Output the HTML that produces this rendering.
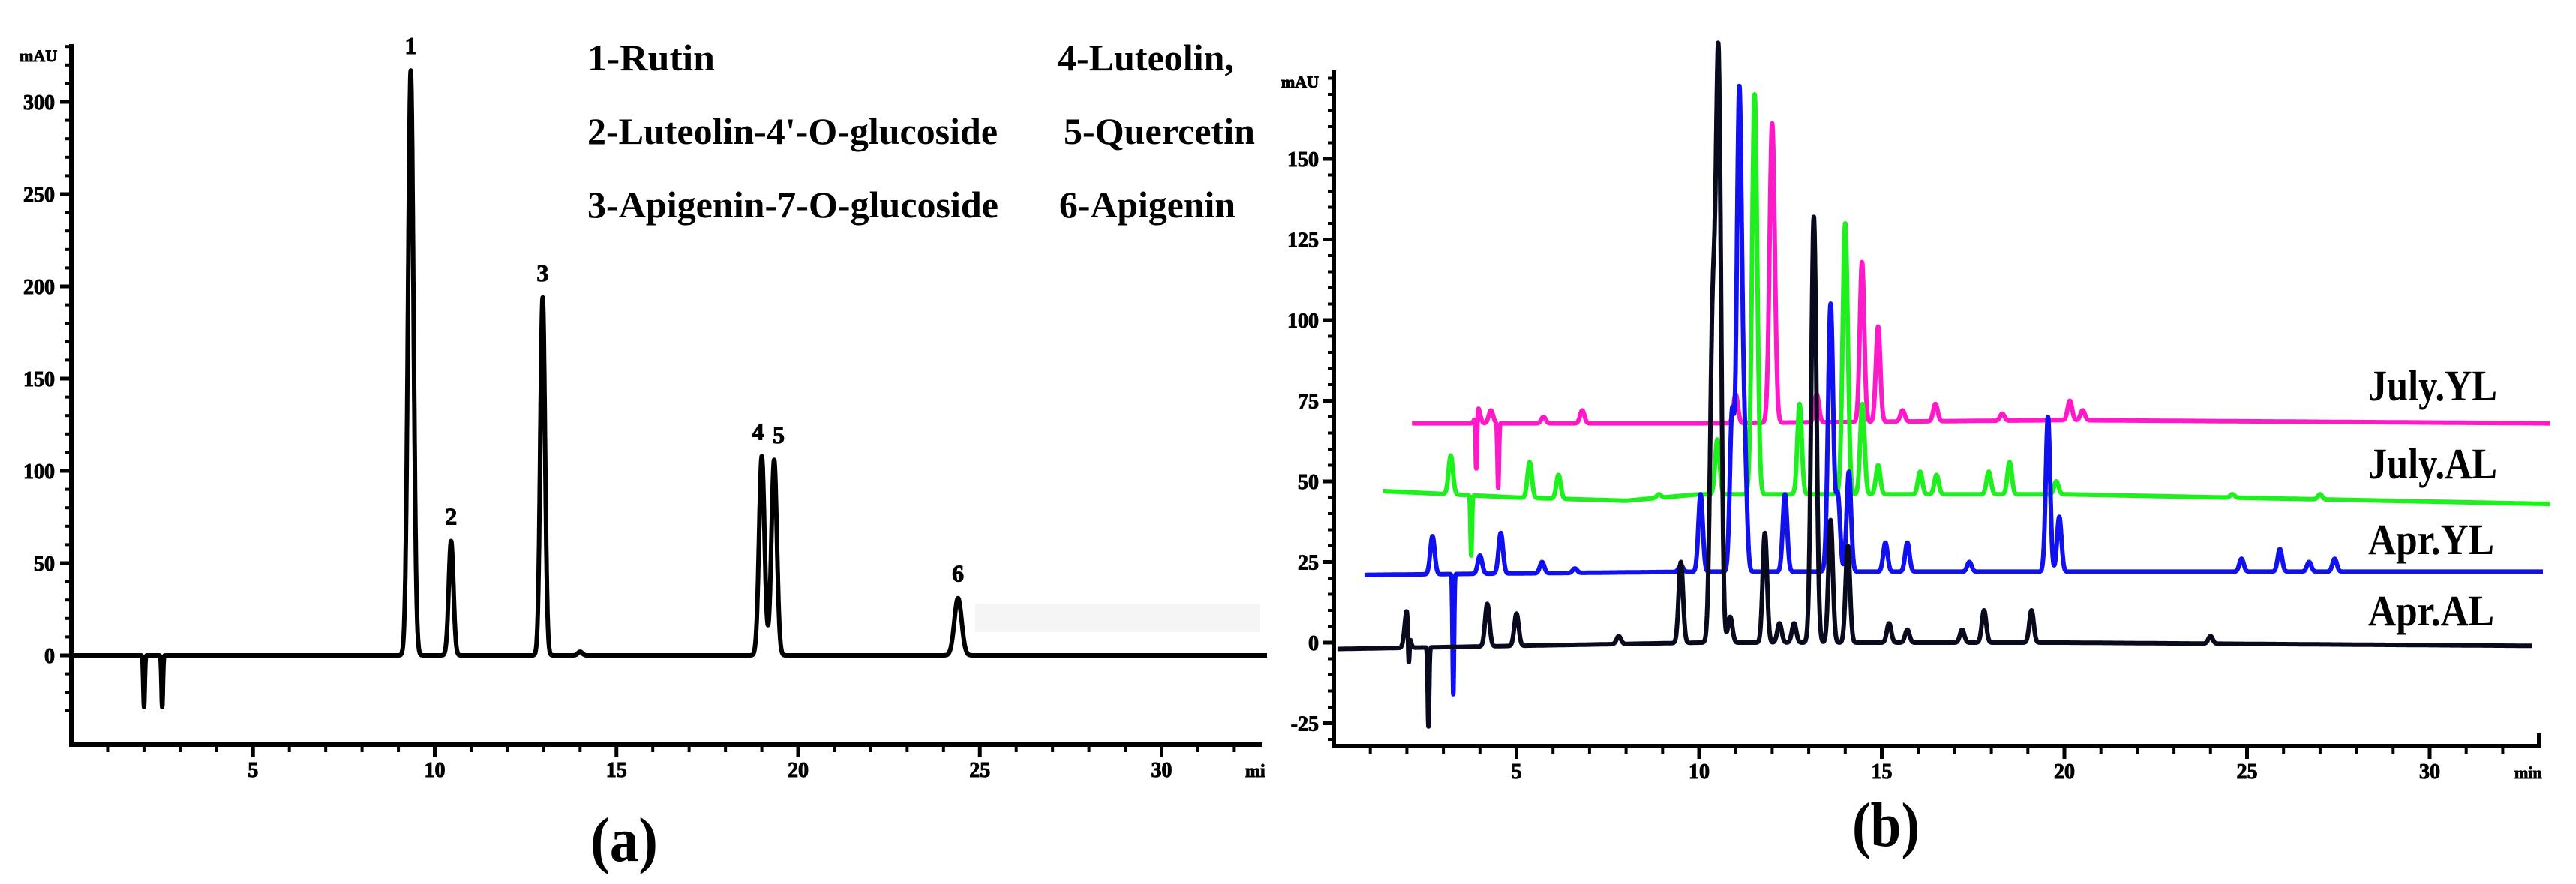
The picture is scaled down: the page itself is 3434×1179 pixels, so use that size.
<!DOCTYPE html>
<html><head><meta charset="utf-8"><style>
html,body{margin:0;padding:0;background:#fff}
svg{display:block}
text{font-family:"Liberation Serif",serif;font-weight:bold}
</style></head><body>
<svg id="s" width="3434" height="1179" viewBox="0 0 3434 1179" xmlns="http://www.w3.org/2000/svg">
<g id="ga"></g>
<g id="gb"></g>
</svg>
<script>
// ---- Panel (a) data ----
const aPeakTimes = [2.0, 2.5, 9.34, 10.45, 12.97, 14.0, 19.0, 19.34, 24.4];
const aPeakHeights = [-28, -28, 317, 62, 194, 2, 108, 106, 31];
const aPeakWidths = [0.02, 0.02, 0.075, 0.065, 0.065, 0.06, 0.075, 0.075, 0.1];
const aPeakLabels = ["1","2","3","4","5","6"];
const aLabelTimes = [9.34, 10.45, 12.97, 19.0, 19.34, 24.4];
const aLabelHeights = [317, 62, 194, 108, 106, 31];
const aYTicks = [0, 50, 100, 150, 200, 250, 300];
const aXTicks = [5, 10, 15, 20, 25, 30];
const legendRows = [["1-Rutin","4-Luteolin,"],["2-Luteolin-4'-O-glucoside","5-Quercetin"],["3-Apigenin-7-O-glucoside","6-Apigenin"]];

// ---- Panel (b) data ----
const bSeriesNames = ["July.YL","July.AL","Apr.YL","Apr.AL"];
const bSeriesColors = ["#ff19c8","#1ef01e","#1010f0","#0a0a1e"];
const bStart = [2.14, 1.35, 0.84, 0.1];
const bEnd = [33.3, 33.3, 33.1, 32.8];
const bBaseT = [[2,10,20,33.3],[1.35,5,8,10,20,33.3],[0.84,10,20,33.1],[0,10,20,32.8]];
const bBaseV = [[68,68,69,68],[47,45,44,46,46,43],[21,22,22,22],[-2,0,0,-1]];
const julyYLT = [3.94,3.9,4.3,4.5,5.74,6.8,11.0,12.0,13.22,14.46,14.9,15.57,16.47,18.3,20.15,20.5];
const julyYLH = [73,50,72,48,70,72,77,161,77,118,98,72,74,71,75,72];
const julyALT = [3.2,3.76,5.36,6.15,8.9,10.5,11.52,12.75,14.0,14.47,14.9,16.05,16.5,17.93,18.5,19.78,24.6,27.0];
const julyALH = [58,27,56,52,46,63,170,74,130,74,55,53,52,53,56,50,46,46];
const aprYLT = [2.7,3.27,4.0,4.57,5.7,6.6,9.5,10.04,10.9,11.1,11.25,12.35,13.6,13.8,14.1,15.1,15.7,17.4,19.55,19.86,24.85,25.9,26.7,27.4];
const aprYLH = [33,-16,27,34,25,23,24,46,70,171,55,46,105,45,53,31,31,25,70,39,26,29,25,26];
const aprALT = [2.0,2.05,2.59,4.2,5.0,7.8,9.5,10.37,10.53,10.85,11.8,12.2,12.6,13.14,13.6,14.07,15.2,15.7,17.2,17.8,19.1,24.0];
const aprALH = [10,-14,-26,12,9,2,25,97,178,8,34,6,6,132,38,30,6,4,4,10,10,2];
const bYTicks = [-25, 0, 25, 50, 75, 100, 125, 150];
const bXTicks = [5, 10, 15, 20, 25, 30];

const NS = "http://www.w3.org/2000/svg";
function mk(parent, tag, attrs, txt){const e=document.createElementNS(NS,tag);for(const k in attrs)e.setAttribute(k,attrs[k]);if(txt!==undefined)e.textContent=txt;parent.appendChild(e);return e;}

// ---------- Panel A ----------
const ga = document.getElementById('ga');
const ax = t => 95 + t*48.45;
const ay = v => 874 - v*2.46;
const nb = mk(ga,'rect',{x:1300,y:805,width:380,height:38,fill:'#f5f5f5'});


const aAxis = mk(ga,'path',{d:`M95 59 V993 H1683`,stroke:'#000','stroke-width':6,fill:'none'});


for(let v=-30; v<=330; v+=10){ if(ay(v)>990||ay(v)<60) continue; const major=aYTicks.includes(v);
  const t=mk(ga,'line',{x1:major?80:87,x2:95,y1:ay(v),y2:ay(v),stroke:'#000','stroke-width':major?5:4});
   }
aYTicks.forEach(v=>{const t=mk(ga,'text',{x:73,y:ay(v)+10,'text-anchor':'end','font-size':28,'font-family':'Liberation Sans','stroke':'#000','stroke-width':1},String(v));
   });
const mauA=mk(ga,'text',{x:26,y:82,'font-size':22,'font-family':'Liberation Sans','stroke':'#000','stroke-width':1},'mAU');
 
for(let m=1; m<=32; m++){const major=aXTicks.includes(m);
  const t=mk(ga,'line',{x1:ax(m),x2:ax(m),y1:993,y2:major?1010:1003,stroke:'#000','stroke-width':major?5:4});
   }
aXTicks.forEach(m=>{const t=mk(ga,'text',{x:ax(m),y:1036,'text-anchor':'middle','font-size':28,'font-family':'Liberation Sans','stroke':'#000','stroke-width':1},String(m));
   });
const miA=mk(ga,'text',{x:1660,y:1036,'font-size':24,'font-family':'Liberation Sans','stroke':'#000','stroke-width':1},'mi');
 
function sig(t, times, heights, widths, base){let v=base;for(let i=0;i<times.length;i++){const d=(t-times[i])/widths[i];v+=(heights[i]-base)*Math.exp(-0.5*d*d);}return v;}
let dA='';for(let t=0;t<=32.9;t+=0.005){const v=sig(t,aPeakTimes,aPeakHeights,aPeakWidths,0);dA+=(dA?'L':'M')+ax(t).toFixed(1)+' '+ay(v).toFixed(1);}
const trA=mk(ga,'path',{d:dA,stroke:'#000','stroke-width':6,fill:'none','stroke-linejoin':'round'});
 
aPeakLabels.forEach((l,i)=>{const t=mk(ga,'text',{x:ax(aLabelTimes[i])+(i==3?-5:i==4?6:0),y:ay(aLabelHeights[i])-22,'text-anchor':'middle','font-size':32,'stroke':'#000','stroke-width':1},l);
   });
legendRows.forEach((r,i)=>{const y=[94,192,290][i];
  const t1=mk(ga,'text',{x:783,y:y,'font-size':50,textLength:[170,547,548][i],lengthAdjust:'spacingAndGlyphs'},r[0]);
   
  const t2=mk(ga,'text',{x:[1410,1418,1412][i],y:y,'font-size':50,textLength:[235,255,235][i],lengthAdjust:'spacingAndGlyphs'},r[1]);
   });
const capA=mk(ga,'text',{x:832,y:1148,'text-anchor':'middle','font-size':84,textLength:90,lengthAdjust:'spacingAndGlyphs'},'(a)');
 

// ---------- Panel B ----------
const gb=document.getElementById('gb');
const bx=t=>1778+t*48.7;
const by=v=>857-v*4.3;
const bAxis=mk(gb,'path',{d:`M1778 94 V995 H3385 V978`,stroke:'#000','stroke-width':6,fill:'none'});
 
for(let v=-30; v<=175; v+=5){ if(by(v)>992||by(v)<96) continue; const major=bYTicks.includes(v);
  const t=mk(gb,'line',{x1:major?1763:1770,x2:1778,y1:by(v),y2:by(v),stroke:'#000','stroke-width':major?5:4});
   }
bYTicks.forEach(v=>{const t=mk(gb,'text',{x:1758,y:by(v)+10,'text-anchor':'end','font-size':28,'font-family':'Liberation Sans','stroke':'#000','stroke-width':1},String(v));
   });
const mauB=mk(gb,'text',{x:1758,y:117,'text-anchor':'end','font-size':22,'font-family':'Liberation Sans','stroke':'#000','stroke-width':1},'mAU');
 
for(let m=1; m<=32; m++){const major=bXTicks.includes(m);
  const t=mk(gb,'line',{x1:bx(m),x2:bx(m),y1:995,y2:major?1012:1005,stroke:'#000','stroke-width':major?5:4});
   }
bXTicks.forEach(m=>{const t=mk(gb,'text',{x:bx(m),y:1038,'text-anchor':'middle','font-size':28,'font-family':'Liberation Sans','stroke':'#000','stroke-width':1},String(m));
   });
const minB=mk(gb,'text',{x:3352,y:1038,'font-size':22,'font-family':'Liberation Sans','stroke':'#000','stroke-width':1},'min');
 
const peakT=[julyYLT,julyALT,aprYLT,aprALT], peakH=[julyYLH,julyALH,aprYLH,aprALH];
function baseAt(s,t){const T=bBaseT[s],V=bBaseV[s];if(t<=T[0])return V[0];for(let i=1;i<T.length;i++){if(t<=T[i])return V[i-1]+(V[i]-V[i-1])*(t-T[i-1])/(T[i]-T[i-1]);}return V[V.length-1];}
[0,1,2,3].forEach(s=>{let d='';
  for(let t=bStart[s];t<=bEnd[s];t+=0.005){const b=baseAt(s,t);let v=b;const T=peakT[s],H=peakH[s];
    for(let i=0;i<T.length;i++){const w=(Math.abs(H[i]-b)>60)?0.07:(H[i]<b?0.02:0.06);const q=(t-T[i])/w;v+=(H[i]-b)*Math.exp(-0.5*q*q);}
    d+=(d?'L':'M')+bx(t).toFixed(1)+' '+by(v).toFixed(1);}
  const p=mk(gb,'path',{d:d,stroke:bSeriesColors[s],'stroke-width':6,fill:'none','stroke-linejoin':'round'});
  
  
});
const lblY=[534,638,739,834];
bSeriesNames.forEach((n,i)=>{const t=mk(gb,'text',{x:3157,y:lblY[i],'font-size':58,textLength:[172,172,168,168][i],lengthAdjust:'spacingAndGlyphs'},n);
   });
const capB=mk(gb,'text',{x:2514,y:1128,'text-anchor':'middle','font-size':84,textLength:90,lengthAdjust:'spacingAndGlyphs'},'(b)');
 
</script>
</body></html>
